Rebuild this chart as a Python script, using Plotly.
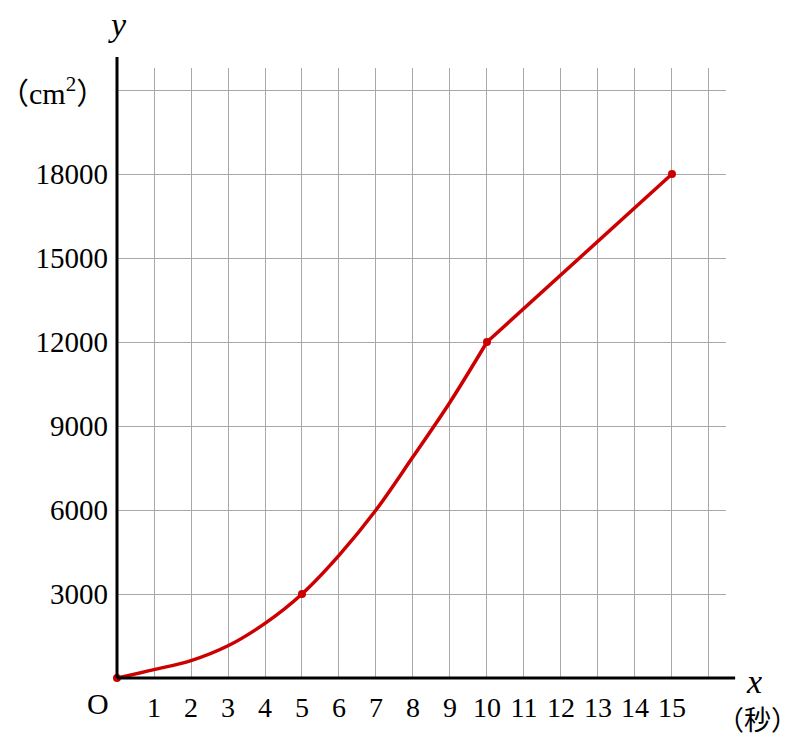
import plotly.graph_objects as go

# data
x_curve = [0, 1, 2, 3, 4, 5, 6, 7, 8, 9, 10]
y_curve = [0, 300, 620, 1150, 1950, 3000, 4380, 6000, 7900, 9850, 12000]
x_line = [10, 15]
y_line = [12000, 18000]
x_pts = [0, 5, 10, 15]
y_pts = [0, 3000, 12000, 18000]
x_ticks = list(range(1, 16))
x_extra_grid = [16]
y_ticks = [3000, 6000, 9000, 12000, 15000, 18000]
y_tick_labels = ["3000", "6000", "9000", "12000", "15000", "18000"]
y_extra_grid = [21000]

RED = "#cc0000"
FONT = "Liberation Serif"
GRID = "#a8a8a8"

fig = go.Figure()
fig.add_trace(go.Scatter(x=x_curve, y=y_curve, mode="lines",
                         line=dict(color=RED, width=3.5, shape="spline", smoothing=1.0),
                         hoverinfo="skip", showlegend=False))
fig.add_trace(go.Scatter(x=x_line, y=y_line, mode="lines",
                         line=dict(color=RED, width=3.5),
                         hoverinfo="skip", showlegend=False))
fig.add_trace(go.Scatter(x=x_pts, y=y_pts, mode="markers",
                         marker=dict(color=RED, size=8),
                         cliponaxis=False, showlegend=False))

fig.update_layout(
    width=800, height=740,
    margin=dict(l=117, r=74, t=68, b=62),
    plot_bgcolor="white", paper_bgcolor="white",
    font=dict(family=FONT, color="black"),
    xaxis=dict(range=[0, 16.46], tickmode="array", tickvals=x_ticks,
               ticktext=[str(v) for v in x_ticks],
               showgrid=True, gridcolor=GRID, gridwidth=1,
               minor=dict(tickmode="array", tickvals=x_extra_grid, showgrid=True,
                          gridcolor=GRID, gridwidth=1, ticks=""),
               zeroline=False, showline=False, ticks="", automargin=False,
               tickfont=dict(size=28, family=FONT), ticklabelstandoff=10),
    yaxis=dict(range=[0, 21786], tickmode="array", tickvals=y_ticks,
               ticktext=y_tick_labels,
               showgrid=True, gridcolor=GRID, gridwidth=1,
               minor=dict(tickmode="array", tickvals=y_extra_grid, showgrid=True,
                          gridcolor=GRID, gridwidth=1, ticks=""),
               zeroline=False, showline=False, ticks="", automargin=False,
               tickfont=dict(size=29, family=FONT), ticklabelstandoff=8),
)

# axis lines
fig.add_shape(type="line", xref="paper", yref="paper", x0=0, x1=0, y0=0, y1=1.018,
              line=dict(color="black", width=3))
fig.add_shape(type="line", xref="paper", yref="paper", x0=0, x1=1.015, y0=0, y1=0,
              line=dict(color="black", width=3))

ann = [
    dict(x=-0.0312, y=-0.0426, text="O", font=dict(size=30)),
    dict(x=0.0, y=1.0705, text="<i>y</i>", font=dict(size=34)),
    dict(x=-0.1067, y=0.962, text="（cm<sup>2</sup>）",
         font=dict(size=30, family="Liberation Serif, Noto Sans CJK JP")),
    dict(x=1.046, y=-0.006, text="<i>x</i>", font=dict(size=34)),
    dict(x=1.052, y=-0.0656, text="（秒）", font=dict(size=27, family="Noto Sans CJK JP")),
]
for a in ann:
    fig.add_annotation(showarrow=False, xref="paper", yref="paper",
                       xanchor="center", yanchor="middle", **a)

fig.write_html("out.html", post_script="document.body.style.margin='0';",
               config={"displayModeBar": False})
